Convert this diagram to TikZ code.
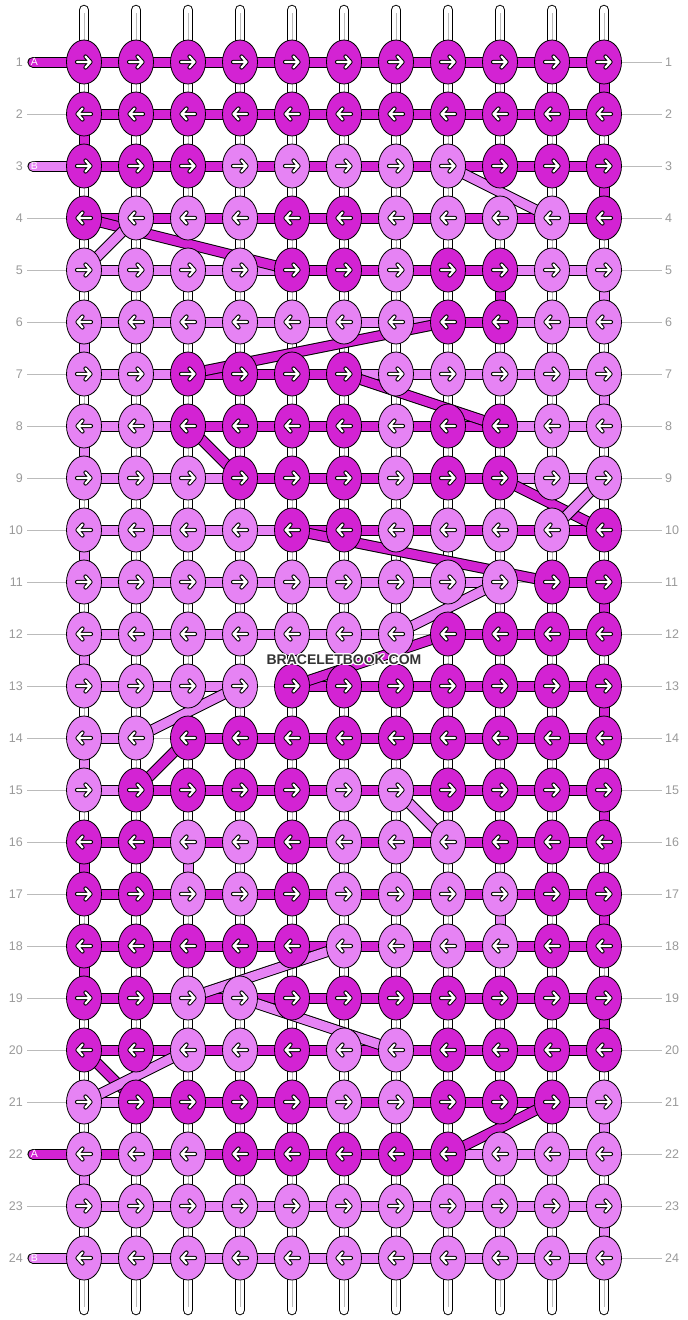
\documentclass[tikz,border=0pt]{standalone}
\usepackage{fontspec}
\setmainfont{Liberation Sans}
\usetikzlibrary{shapes.geometric}
\definecolor{D}{HTML}{D323D3}
\definecolor{L}{HTML}{E683F4}
\definecolor{guide}{HTML}{BBBBBB}
\definecolor{labgray}{HTML}{9A9A9A}
\definecolor{wmark}{HTML}{333333}
\pgfdeclarelayer{bglayer}
\pgfdeclarelayer{rodlayer}
\pgfdeclarelayer{barlayer}
\pgfdeclarelayer{diaglayer}
\pgfsetlayers{bglayer,rodlayer,barlayer,diaglayer,main}
\tikzset{
  knotbase/.style={ellipse, draw=black, line width=0.8pt, minimum width=35pt, minimum height=44pt, inner sep=0pt},
  knotD/.style={knotbase, fill=D},
  knotL/.style={knotbase, fill=L},
  strandD/.style={preaction={draw=black, line width=11pt}, draw=D, line width=9pt},
  strandL/.style={preaction={draw=black, line width=11pt}, draw=L, line width=9pt},
  strandN/.style={},
  leadD/.style={preaction={draw=black, line width=11pt, line cap=round}, draw=D, line width=9pt, line cap=round},
  leadL/.style={preaction={draw=black, line width=11pt, line cap=round}, draw=L, line width=9pt, line cap=round},
  rod/.style={preaction={draw=black, line width=10.5pt, line cap=round}, draw=white, line width=8.5pt, line cap=round},
  rodmid/.style={draw=gray!55, line width=0.7pt},
  guideline/.style={draw=guide, line width=1pt},
  lab/.style={text=labgray, font=\fontsize{12.5}{12.5}\selectfont, inner sep=0pt},
  leadlab/.style={text=white, font=\fontsize{10.5}{10.5}\selectfont, inner sep=0pt},
  rarr/.pic={
    \draw[black, line width=4.2pt, line cap=round, line join=round] (-7,0)--(6.5,0) (1.5,-5.5)--(6.5,0)--(1.5,5.5);
    \draw[white, line width=2.2pt, line cap=round, line join=round] (-7,0)--(6.5,0) (1.5,-5.5)--(6.5,0)--(1.5,5.5);
  },
}
\begin{document}
\begin{tikzpicture}[x=1pt,y=-1pt]
\useasboundingbox (0,0) rectangle (688,1320);
\begin{pgfonlayer}{bglayer}
\fill[white] (0,0) rectangle (688,1320);
\end{pgfonlayer}

% knots
\foreach \r/\row in {
 1/{D,D,D,D,D,D,D,D,D,D,D},
 2/{D,D,D,D,D,D,D,D,D,D,D},
 3/{D,D,D,L,L,L,L,L,D,D,D},
 4/{D,L,L,L,D,D,L,L,L,L,D},
 5/{L,L,L,L,D,D,L,D,D,L,L},
 6/{L,L,L,L,L,L,L,D,D,L,L},
 7/{L,L,D,D,D,D,L,L,L,L,L},
 8/{L,L,D,D,D,D,L,D,D,L,L},
 9/{L,L,L,D,D,D,L,D,D,L,L},
 10/{L,L,L,L,D,D,L,L,L,L,D},
 11/{L,L,L,L,L,L,L,L,L,D,D},
 12/{L,L,L,L,L,L,L,D,D,D,D},
 13/{L,L,L,L,D,D,D,D,D,D,D},
 14/{L,L,D,D,D,D,D,D,D,D,D},
 15/{L,D,D,D,D,L,L,D,D,D,D},
 16/{D,D,L,L,D,L,L,L,D,D,D},
 17/{D,D,L,L,D,L,L,L,L,D,D},
 18/{D,D,D,D,D,L,L,L,L,D,D},
 19/{D,D,L,L,D,D,D,D,D,D,D},
 20/{D,D,L,L,D,L,L,D,D,D,D},
 21/{L,D,D,D,D,L,L,D,D,D,L},
 22/{L,L,L,D,D,D,D,D,L,L,L},
 23/{L,L,L,L,L,L,L,L,L,L,L},
 24/{L,L,L,L,L,L,L,L,L,L,L}}{
  \foreach \k [count=\c] in \row {
    \node[knot\k] (k-\r-\c) at ({32+52*\c},{10+52*\r}) {};
    \ifodd\r\relax
      \pic at (k-\r-\c.center) {rarr};
    \else
      \pic[xscale=-1] at (k-\r-\c.center) {rarr};
    \fi
  }
}

% guide lines, labels, rods
\begin{pgfonlayer}{rodlayer}
\foreach \r in {1,...,24}{
  \coordinate (gl-\r) at (27,{10+52*\r});
  \coordinate (gr-\r) at (662,{10+52*\r});
  \path[guideline] (gl-\r) -- (gr-\r);
}
\foreach \c in {1,...,11}{
  \coordinate (rt-\c) at ({32+52*\c},10);
  \coordinate (rb-\c) at ({32+52*\c},1310);
  \path[rod] (rt-\c) -- (rb-\c);
  \path[rodmid] ([yshift=-3pt]rt-\c) -- ([yshift=3pt]rb-\c);
}
\end{pgfonlayer}
\foreach \r in {1,...,24}{
  \node[lab, anchor=east] (ll-\r) at (23,{10+52*\r}) {\r};
  \node[lab, anchor=west] (lr-\r) at (665,{10+52*\r}) {\r};
}

% horizontal bars
\begin{pgfonlayer}{barlayer}
\foreach \r/\row in {
 1/{D,D,D,D,D,D,D,D,D,D},
 2/{D,D,D,D,D,D,D,D,D,D},
 3/{D,D,D,D,D,D,D,D,D,D},
 4/{D,D,D,D,D,D,D,D,D,D},
 5/{L,L,L,L,D,D,D,D,L,L},
 6/{L,L,L,L,L,L,L,D,L,L},
 7/{L,L,D,D,D,L,L,L,L,L},
 8/{L,L,D,D,D,D,D,D,L,L},
 9/{L,L,L,D,D,D,D,D,L,L},
 10/{L,L,L,L,D,D,D,D,D,D},
 11/{L,L,L,L,L,L,L,L,N,D},
 12/{L,L,L,L,L,L,N,D,D,D},
 13/{L,L,L,N,D,D,D,D,D,D},
 14/{L,N,D,D,D,D,D,D,D,D},
 15/{L,D,D,D,D,D,D,D,D,D},
 16/{D,D,D,D,D,D,D,D,D,D},
 17/{D,D,D,D,D,D,D,D,D,D},
 18/{D,D,D,D,D,D,D,D,D,D},
 19/{D,D,D,D,D,D,D,D,D,D},
 20/{D,D,D,D,D,D,D,D,D,D},
 21/{L,D,D,D,D,D,D,D,D,L},
 22/{D,D,D,D,D,D,D,L,L,L},
 23/{L,L,L,L,L,L,L,L,L,L},
 24/{L,L,L,L,L,L,L,L,L,L}}{
  \foreach \k [count=\c] in \row {
    \pgfmathtruncatemacro\n{\c+1}
    \path[strand\k] (k-\r-\c.center) -- (k-\r-\n.center);
  }
}
% vertical turns at the edges
\foreach \r/\c/\k in {1/11/D, 2/1/D, 3/11/D, 5/9/D, 5/11/L, 6/1/L, 7/11/L, 8/1/L,
  10/1/L, 11/11/D, 12/1/L, 13/11/D, 14/1/L, 15/11/D, 16/1/D, 16/3/L, 17/9/L,
  17/11/D, 18/1/D, 19/11/D, 21/11/L, 22/1/L, 23/11/L}{
  \pgfmathtruncatemacro\n{\r+1}
  \path[strand\k] (k-\r-\c.center) -- (k-\n-\c.center);
}
% lead strands
\foreach \r/\k in {1/D, 3/L, 22/D, 24/L}{
  \coordinate (st-\r) at (33,{10+52*\r});
  \path[lead\k] (st-\r) -- (k-\r-1.center);
}
\end{pgfonlayer}
\node[leadlab] (sa-1) at (34.5,62) {A};
\node[leadlab] (sa-3) at (34.5,166) {B};
\node[leadlab] (sa-22) at (34.5,1154) {A};
\node[leadlab] (sa-24) at (34.5,1258) {B};

% diagonals
\begin{pgfonlayer}{diaglayer}
\foreach \ra/\ca/\rb/\cb/\k in {3/8/4/10/L, 4/1/5/5/D, 4/2/5/1/L, 6/8/7/3/D,
  7/6/8/9/D, 8/3/9/4/D, 9/9/10/11/D, 9/11/10/10/L, 10/5/11/10/D, 11/9/12/7/L,
  12/8/13/5/D, 13/4/14/2/L, 14/3/15/2/D, 15/7/16/8/L, 18/6/19/3/L,
  19/4/20/7/L, 20/1/21/2/D, 20/3/21/1/L, 21/10/22/8/D}{
  \path[strand\k] (k-\ra-\ca.center) -- (k-\rb-\cb.center);
}
\end{pgfonlayer}

% watermark
\foreach \dx/\dy in {-1/0,1/0,0/-1,0/1,-1/-1,1/1,-1/1,1/-1}{
  \node[text=white, font=\bfseries\fontsize{14}{14}\selectfont, inner sep=0pt] at ({344+\dx},{660+\dy}) {BRACELETBOOK.COM};
}
\node[text=wmark, font=\bfseries\fontsize{14}{14}\selectfont, inner sep=0pt] (wm) at (344,660) {BRACELETBOOK.COM};
\end{tikzpicture}
\end{document}
